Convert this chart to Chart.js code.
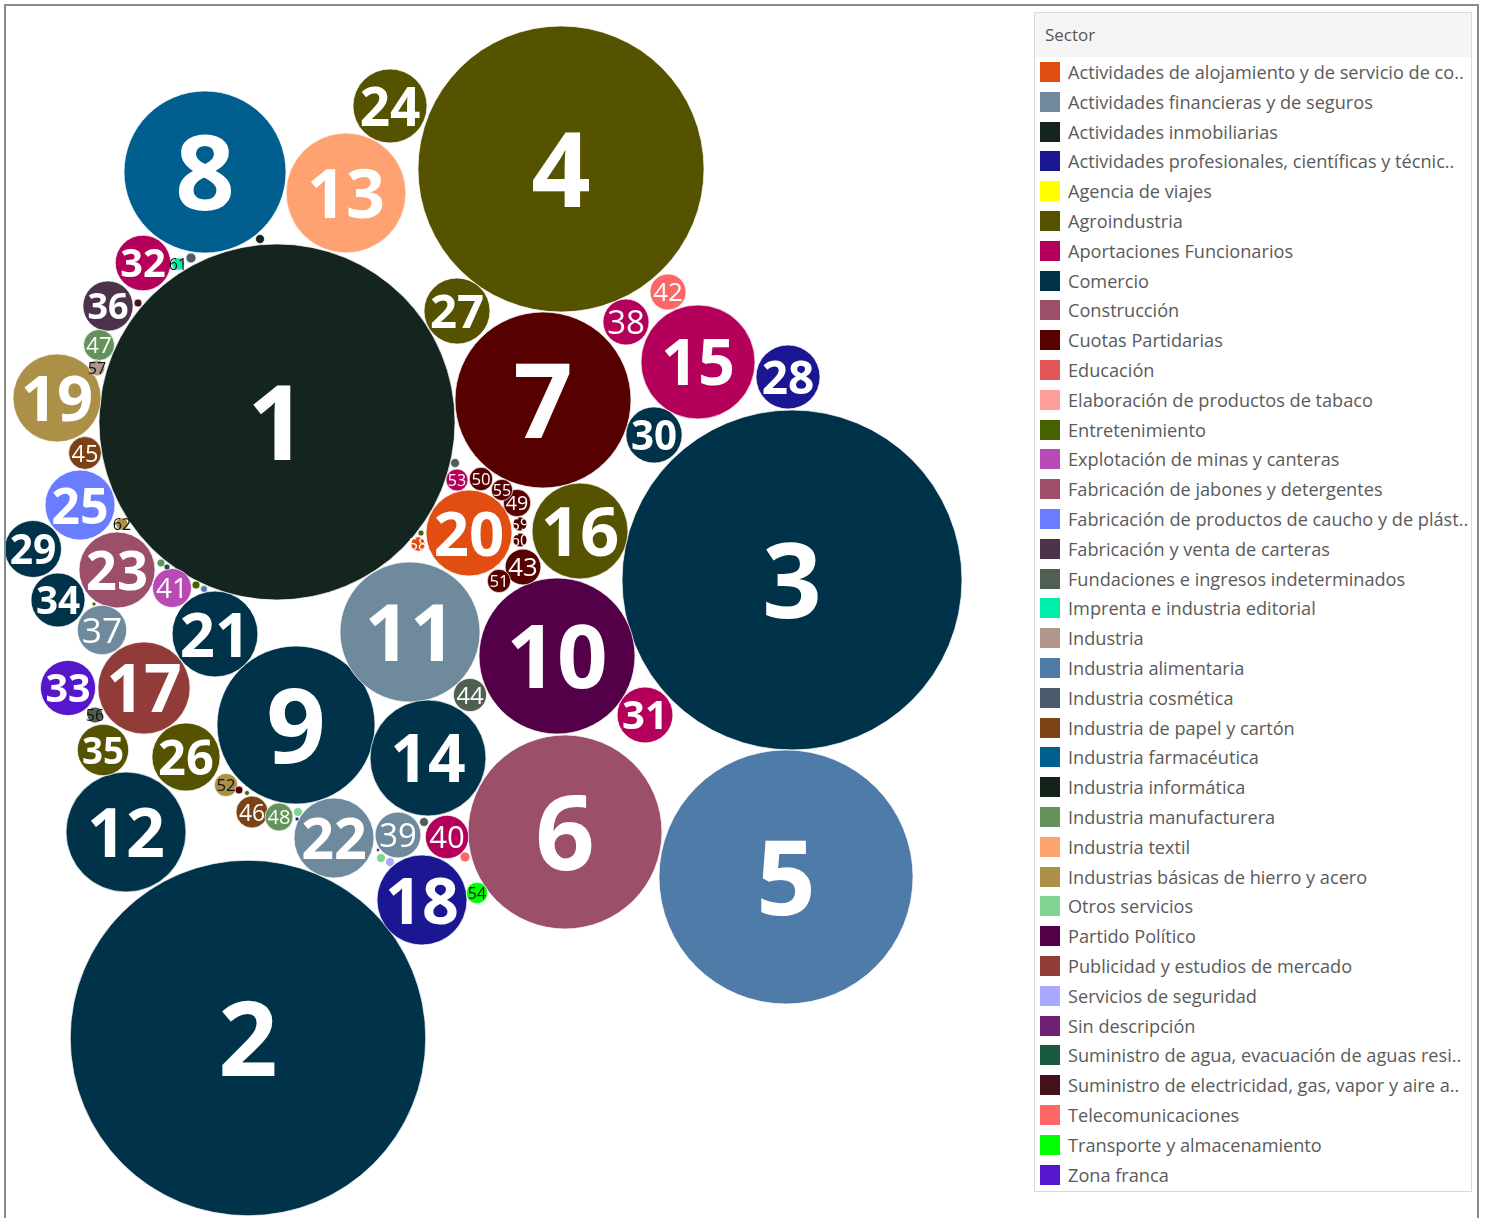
<!DOCTYPE html>
<html>
<head>
<meta charset="utf-8">
<script src="https://cdn.jsdelivr.net/npm/chart.js@4.4.1/dist/chart.umd.min.js"></script>
<style>
  body { margin: 0; background: #fff; font-family: "Open Sans", sans-serif; }
  #plot { position: absolute; left: 0; top: 0; }
  #frame { position: absolute; left: 4px; top: 4px; width: 1475px; height: 1240px; box-sizing: border-box;
           border: 2px solid #8a8a8a; border-bottom: none; pointer-events: none; }
  #legend { position: absolute; left: 1034px; top: 12px; width: 438px; height: 1180px; box-sizing: border-box;
            border: 1px solid #d9d9d9; background: #fff; }
  #legend .hdr { position: absolute; left: 0; top: 0; right: 0; height: 44px; background: #f5f5f5;
                 color: #555; font-size: 17px; line-height: 44px; padding-left: 10px; }
  .item { position: absolute; left: 5px; height: 20px; }
  .sw { position: absolute; left: 0; top: 0; width: 20px; height: 20px; }
  .txt { position: absolute; left: 28px; top: 50%; transform: translateY(-50%); color: #5a5a5a; white-space: nowrap; }
</style>
</head>
<body>
<canvas id="plot" width="1030" height="1218"></canvas>
<div id="legend"><div class="hdr">Sector</div></div>
<div id="frame"></div>

<script>
// legend categories (as shown, truncated like the original)
const sectors = [
  'Actividades de alojamiento y de servicio de co..', 'Actividades financieras y de seguros',
  'Actividades inmobiliarias', 'Actividades profesionales, científicas y técnic..',
  'Agencia de viajes', 'Agroindustria', 'Aportaciones Funcionarios', 'Comercio', 'Construcción',
  'Cuotas Partidarias', 'Educación', 'Elaboración de productos de tabaco', 'Entretenimiento',
  'Explotación de minas y canteras', 'Fabricación de jabones y detergentes',
  'Fabricación de productos de caucho y de plást..', 'Fabricación y venta de carteras',
  'Fundaciones e ingresos indeterminados', 'Imprenta e industria editorial', 'Industria',
  'Industria alimentaria', 'Industria cosmética', 'Industria de papel y cartón',
  'Industria farmacéutica', 'Industria informática', 'Industria manufacturera', 'Industria textil',
  'Industrias básicas de hierro y acero', 'Otros servicios', 'Partido Político',
  'Publicidad y estudios de mercado', 'Servicios de seguridad', 'Sin descripción',
  'Suministro de agua, evacuación de aguas resi..', 'Suministro de electricidad, gas, vapor y aire a..',
  'Telecomunicaciones', 'Transporte y almacenamiento', 'Zona franca'
];
const sectorColors = [
  '#e24e12', '#6e8a9c', '#13251e', '#1b1792', '#ffff00', '#555200', '#b4005a', '#00324a', '#9b4f68',
  '#560000', '#e15759', '#ff9d9a', '#446200', '#b84ab5', '#a04e6c', '#6a7dff', '#4b344b', '#4f5f52',
  '#00eeaa', '#b0978a', '#4f7ba8', '#4b5b6b', '#7b4313', '#005f8e', '#13231a', '#63925a', '#ffa272',
  '#ac9047', '#80d392', '#540049', '#913c38', '#a8a8ff', '#6d2274', '#1a5940', '#43121b', '#ff6666',
  '#00ff00', '#5516cc'
];

// bubbles: rank label, sector index, amount (area), packed position
const ranks = [1,2,3,4,5,6,7,8,9,10,11,12,13,14,15,16,17,18,19,20,21,22,23,24,25,26,27,28,29,30,
  31,32,33,34,35,36,37,38,39,40,41,42,43,44,45,46,47,48,49,50,51,52,53,54,55,56,57,58,59,60,61,62,
  '','','','','','','','','','','','','','','','','','',''];
const sectorIdx = [2,7,7,5,20,8,9,23,7,29,1,7,26,7,6,5,30,3,27,0,7,1,8,5,15,5,5,3,7,7,
  6,6,37,7,5,16,1,6,1,6,13,35,9,17,22,22,25,25,9,9,9,27,6,36,9,17,19,0,9,9,18,27,
  21,24,34,17,12,25,33,12,20,12,9,12,28,3,17,28,31,32,35];
const amounts = [31700,31600,28900,20450,16130,9400,7740,6560,6240,6080,4900,3600,3590,3360,3250,
  2300,2120,2025,1940,1850,1840,1600,1445,1370,1225,1160,1090,1025,810,790,780,770,760,730,660,
  630,610,530,525,470,380,325,320,275,270,256,240,196,188,137,136,135,121,115,114,64,63,52,50,49,40,38,
  25,20,16,20,9,16,9,16,12,4,16,6,20,4,20,20,20,3,25];
const posX = [277,248,792,561,786,565,543,205,296,557,410,126,346,428,698,580,144,422,57,469,215,334,
  117,390,80,186,457,788,33,654,645,143,68,58,103,108,102,626,398,447,172,668,523,470,85,252,99,279,
  517,481,499,226,457,477,502,95,97,418,520,520,178,122,
  191,260,138,455,421,161,167,196,204,94,239,247,298,297,424,381,390,378,465];
const posY = [422,1038,580,169,877,832,400,172,725,656,632,832,193,758,362,531,688,900,398,533,634,838,
  570,106,505,757,311,377,549,435,715,263,688,600,750,306,630,322,835,837,588,292,567,695,453,812,345,817,
  503,479,581,785,480,893,490,715,368,544,524,540,264,524,
  258,239,303,463,533,563,567,585,589,604,790,793,812,819,822,858,862,850,857];

const darkLabels = new Set([52, 54, 56, 57, 61, 62]);

document.addEventListener('DOMContentLoaded', function() {
  const points = ranks.map((lbl, i) => ({ x: posX[i], y: posY[i], r: Math.sqrt(amounts[i]), label: lbl }));

  // labels inside bubbles, sized to fit
  const bubbleLabels = {
    id: 'bubbleLabels',
    afterDatasetsDraw(chart) {
      const ctx = chart.ctx;
      chart.getDatasetMeta(0).data.forEach((el, i) => {
        const lbl = ranks[i];
        if (lbl === '') return;
        const r = points[i].r;
        const txt = String(lbl);
        const weight = lbl <= 36 ? '700' : '400';
        ctx.font = weight + ' 100px "Open Sans"';
        const w1 = ctx.measureText(txt).width / 100;
        const fit = r >= 55 ? 0.65 : 0.82;
        let size = Math.min(104, fit * 2 * r / w1);
        size = Math.max(size, 16);
        ctx.font = weight + ' ' + size.toFixed(1) + 'px "Open Sans"';
        const m = ctx.measureText(txt);
        ctx.fillStyle = darkLabels.has(lbl) ? '#111' : '#fff';
        ctx.textAlign = 'center';
        ctx.textBaseline = 'alphabetic';
        ctx.fillText(txt, el.x, el.y + m.actualBoundingBoxAscent / 2);
      });
    }
  };

  new Chart(document.getElementById('plot').getContext('2d'), {
    type: 'bubble',
    data: {
      datasets: [{
        data: points,
        backgroundColor: sectorIdx.map(s => sectorColors[s]),
        borderColor: 'rgba(255,255,255,0.7)',
        borderWidth: 1,
        hoverBorderWidth: 1,
        clip: false
      }]
    },
    options: {
      responsive: false,
      animation: false,
      devicePixelRatio: 1,
      layout: { padding: 0, autoPadding: false },
      plugins: { legend: { display: false }, tooltip: { enabled: false } },
      scales: {
        x: { type: 'linear', min: 0, max: 1030, display: false },
        y: { type: 'linear', min: 0, max: 1218, reverse: true, display: false }
      }
    },
    plugins: [bubbleLabels]
  });

  // legend on the right
  const legend = document.getElementById('legend');
  const probe = document.createElement('canvas').getContext('2d');
  probe.font = '16px "Open Sans"';
  const fontPx = 16 * 305 / probe.measureText('Actividades financieras y de seguros').width;
  sectors.forEach((name, i) => {
    const item = document.createElement('div');
    item.className = 'item';
    item.style.top = (49 + i * 29.8) + 'px';
    item.innerHTML = '<div class="sw" style="background:' + sectorColors[i] + '"></div>' +
      '<div class="txt" style="font-size:' + fontPx.toFixed(2) + 'px">' + name + '</div>';
    legend.appendChild(item);
  });
});
</script>
</body>
</html>
